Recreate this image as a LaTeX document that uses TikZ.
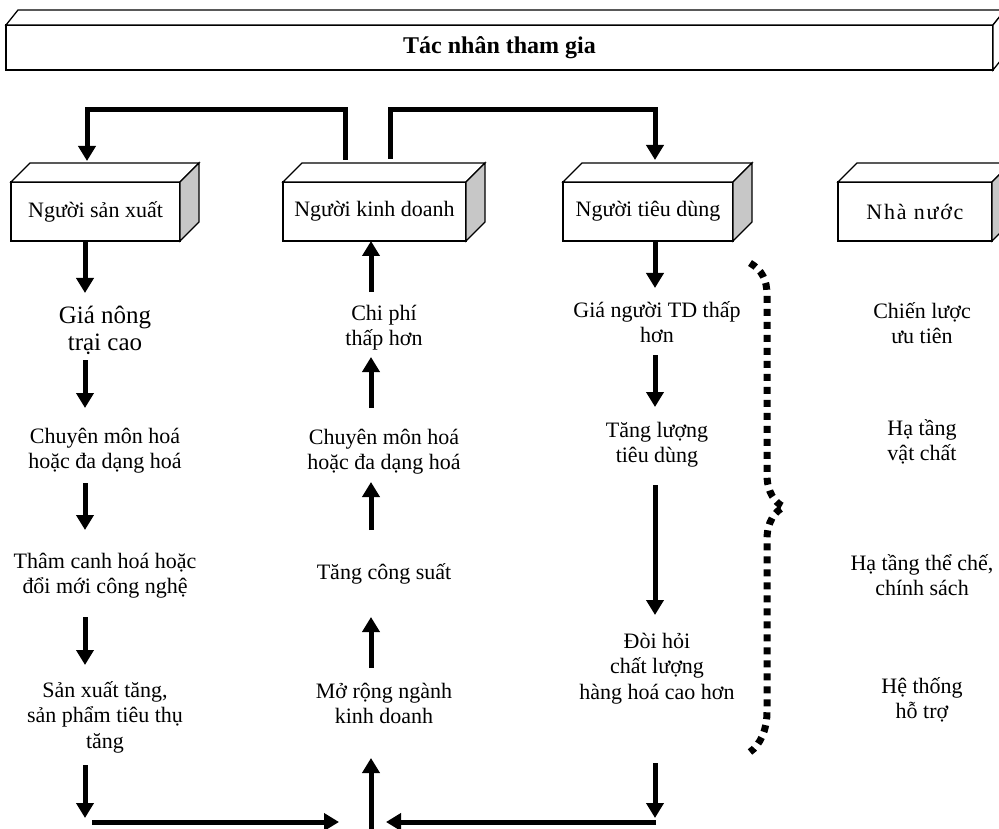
\documentclass[tikz,border=0pt]{standalone}
\usepackage{fontspec}
\setmainfont{Liberation Serif}
\newfontfamily\widefont[LetterSpace=8]{Liberation Serif}
\usetikzlibrary{arrows.meta,calc}
\newcommand\drawfaces[4]{%
  \draw[face] (#1.north west) -- ++(#2,#3) -- ([shift={(#2,#3)}]#1.north east) -- (#1.north east) -- cycle;
  \draw[face, fill=#4] (#1.north east) -- ++(#2,#3) -- ([shift={(#2,#3)}]#1.south east) -- (#1.south east) -- cycle;}
\begin{document}
\begin{tikzpicture}[x=1pt,y=-1pt,
  box/.style={draw, line width=1.3pt, fill=white, minimum height=59pt, inner sep=0pt, outer sep=0pt, font=\fontsize{22}{26}\selectfont},
  face/.style={draw, line width=1.3pt, fill=white, line join=miter},
  txt/.style={anchor=north, inner sep=0pt, align=center, font=\fontsize{22}{25.5}\selectfont},
  arr/.style={line width=5pt, -{Triangle[length=15pt,width=17pt]}},
  bracedots/.style={line width=7pt, dash pattern=on 7pt off 6pt}]
\useasboundingbox (0,0) rectangle (999,829);
\clip (0,0) rectangle (999,829);
\fill[white] (0,0) rectangle (999,829);

% banner
\node[box, minimum width=987pt, minimum height=45pt, font=\fontsize{24}{28}\selectfont\bfseries] (ban) at (499.5,47.5) {Tác nhân tham gia};
\drawfaces{ban}{12}{-15}{white}

% actor boxes
\node[box, minimum width=169pt] (sx) at (95.5,211.5) {Người sản xuất};
\drawfaces{sx}{19}{-19}{black!22}
\node[box, minimum width=183pt] (kd) at (374.5,211.5) {Người kinh doanh};
\drawfaces{kd}{19}{-19}{black!22}
\node[box, minimum width=170pt] (td) at (648,211.5) {Người tiêu dùng};
\drawfaces{td}{19}{-19}{black!22}
\node[box, minimum width=154pt, font=\fontsize{22}{26}\widefont] (nn) at (915,211.5) {Nhà nước};
\drawfaces{nn}{19}{-19}{black!22}

% column 1
\node[txt, font=\fontsize{25}{27}\selectfont] (c1a) at (105,301) {\rule{0pt}{22pt}Giá nông\\trại cao};
\node[txt] (c1b) at (105,421) {\rule{0pt}{22pt}Chuyên môn hoá\\hoặc đa dạng hoá};
\node[txt] (c1c) at (105,546) {\rule{0pt}{22pt}Thâm canh hoá hoặc\\đổi mới công nghệ};
\node[txt] (c1d) at (105,675) {\rule{0pt}{22pt}Sản xuất tăng,\\sản phẩm tiêu thụ\\tăng};

% column 2
\node[txt] (c2a) at (384,298) {\rule{0pt}{22pt}Chi phí\\thấp hơn};
\node[txt] (c2b) at (384,422) {\rule{0pt}{22pt}Chuyên môn hoá\\hoặc đa dạng hoá};
\node[txt] (c2c) at (384,557) {\rule{0pt}{22pt}Tăng công suất};
\node[txt] (c2d) at (384,676) {\rule{0pt}{22pt}Mở rộng ngành\\kinh doanh};

% column 3
\node[txt] (c3a) at (657,295) {\rule{0pt}{22pt}Giá người TD thấp\\hơn};
\node[txt] (c3b) at (657,415) {\rule{0pt}{22pt}Tăng lượng\\tiêu dùng};
\node[txt] (c3c) at (657,626) {\rule{0pt}{22pt}Đòi hỏi\\chất lượng\\hàng hoá cao hơn};

% column 4
\node[txt] (c4a) at (922,296) {\rule{0pt}{22pt}Chiến lược\\ưu tiên};
\node[txt] (c4b) at (922,413) {\rule{0pt}{22pt}Hạ tầng\\vật chất};
\node[txt] (c4c) at (922,548) {\rule{0pt}{22pt}Hạ tầng thể chế,\\chính sách};
\node[txt] (c4d) at (922,671) {\rule{0pt}{22pt}Hệ thống\\hỗ trợ};

% top connectors
\coordinate (lvl) at (0,110);
\coordinate (kdL) at ([xshift=-29.5pt,yshift=22pt]kd.north);
\coordinate (kdR) at ([xshift=15.5pt,yshift=23pt]kd.north);
\coordinate (sxT) at ([xshift=-8.5pt,yshift=21pt]sx.north);
\coordinate (tdT) at ([xshift=7pt,yshift=22pt]td.north);
\draw[arr] (kdL) -- (kdL |- lvl) -| (sxT);
\draw[arr] (kdR) -- (kdR |- lvl) -| (tdT);

% column 1 arrows
\draw[arr] ([xshift=-10.5pt]sx.south) -- ([xshift=-20pt,yshift=8pt]c1a.north);
\draw[arr] ([xshift=-20pt,yshift=-59pt]c1a.north) -- ([xshift=-20pt,yshift=13pt]c1b.north);
\draw[arr] ([xshift=-20pt,yshift=-62pt]c1b.north) -- ([xshift=-20pt,yshift=16pt]c1c.north);
\draw[arr] ([xshift=-20pt,yshift=-71pt]c1c.north) -- ([xshift=-20pt,yshift=10pt]c1d.north);
\coordinate (bl) at (85,818);
\draw[arr] ([xshift=-20pt,yshift=-90pt]c1d.north) -- (bl);

% column 2 arrows
\draw[arr] ([xshift=-13pt,yshift=6pt]c2a.north) -- ([xshift=-3.5pt]kd.south);
\draw[arr] ([xshift=-13pt,yshift=14pt]c2b.north) -- ([xshift=-13pt,yshift=-59pt]c2a.north);
\draw[arr] ([xshift=-13pt,yshift=27pt]c2c.north) -- ([xshift=-13pt,yshift=-60pt]c2b.north);
\draw[arr] ([xshift=-13pt,yshift=8pt]c2d.north) -- ([xshift=-13pt,yshift=-60pt]c2c.north);
\coordinate (bm) at (371,829);
\draw[arr] (bm) -- ([xshift=-13pt,yshift=-82pt]c2d.north);

% column 3 arrows
\draw[arr] ([xshift=7pt]td.south) -- ([xshift=-2pt,yshift=7pt]c3a.north);
\draw[arr] ([xshift=-2pt,yshift=-60pt]c3a.north) -- ([xshift=-2pt,yshift=8pt]c3b.north);
\draw[arr] ([xshift=-2pt,yshift=-70pt]c3b.north) -- ([xshift=-2pt,yshift=11pt]c3c.north);
\coordinate (br) at (655,818);
\draw[arr] ([xshift=-2pt,yshift=-137pt]c3c.north) -- (br);

% bottom horizontal arrows
\coordinate (hl1) at (92,822);
\coordinate (hl2) at (339,822);
\coordinate (hr1) at (656,822);
\coordinate (hr2) at (386,822);
\draw[arr] (hl1) -- (hl2);
\draw[arr] (hr1) -- (hr2);

% dotted brace
\draw[bracedots] (750,263) .. controls (762,270) and (767,280) .. (767,295)
  -- (767,475) .. controls (767,492) and (775,503) .. (784,507)
  .. controls (775,511) and (767,522) .. (767,539)
  -- (767,712) .. controls (767,730) and (760,745) .. (750,752);
\end{tikzpicture}
\end{document}
